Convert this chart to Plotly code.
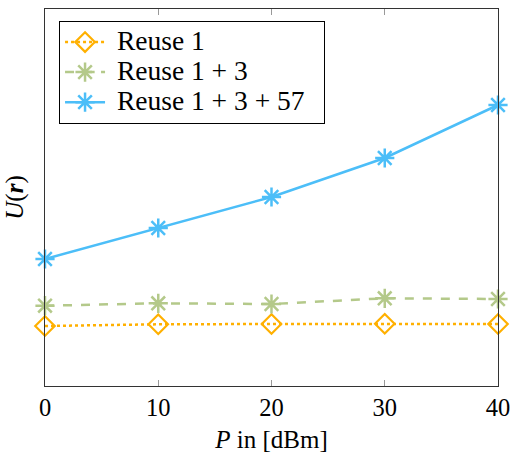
import plotly.graph_objects as go

P = [0, 10, 20, 30, 40]
reuse1 = [60, 61.7, 62, 62.3, 62]
reuse13 = [80.3, 82.7, 82, 87.7, 87]
reuse1357 = [127, 158, 189, 228, 281]
x_ticks = [0, 10, 20, 30, 40]
names = ["Reuse 1", "Reuse 1 + 3", "Reuse 1 + 3 + 57"]

FONT = "Liberation Serif"
ORANGE = "#FFB000"
GREEN = "#B4C98A"
BLUE = "#4CBEF8"


def big(s):
    return '<span style="font-size:27.5px">\u00a0' + s + '\u00a0\u00a0</span>'


fig = go.Figure()
fig.add_trace(go.Scatter(
    x=P, y=reuse1, name=big(names[0]), mode="lines+markers",
    line=dict(color=ORANGE, width=2.5, dash="dot"),
    marker=dict(symbol="diamond-open", size=15, color=ORANGE, line=dict(width=2.2, color=ORANGE)),
    cliponaxis=False,
))
fig.add_trace(go.Scatter(
    x=P, y=reuse13, name=big(names[1]), mode="lines+markers",
    line=dict(color=GREEN, width=2.5, dash="dash"),
    marker=dict(symbol="asterisk-open", size=16, color=GREEN, line=dict(width=2.5, color=GREEN)),
    cliponaxis=False,
))
fig.add_trace(go.Scatter(
    x=P, y=reuse1357, name=big(names[2]), mode="lines+markers",
    line=dict(color=BLUE, width=2.5),
    marker=dict(symbol="asterisk-open", size=16, color=BLUE, line=dict(width=2.5, color=BLUE)),
    cliponaxis=False,
))

fig.update_layout(
    width=513, height=453,
    margin=dict(l=45, r=15, t=9, b=67),
    paper_bgcolor="white", plot_bgcolor="white",
    font=dict(family=FONT, size=24, color="black"),
    showlegend=True,
    legend=dict(
        x=0.031, y=0.968, xanchor="left", yanchor="top",
        bgcolor="white", bordercolor="black", borderwidth=1,
        font=dict(family=FONT, size=20.8, color="black"),
        tracegroupgap=0, itemwidth=40,
    ),
    xaxis=dict(
        range=[0, 40], tickvals=x_ticks, ticktext=[str(v) for v in x_ticks],
        showgrid=False, zeroline=False, automargin=False,
        showline=True, linecolor="#333333", linewidth=1, mirror="allticks",
        ticks="inside", ticklen=6, tickcolor="#999999",
        tickfont=dict(family=FONT, size=24.5),
        title=dict(text="<i>P</i> in [dBm]", font=dict(family=FONT, size=25), standoff=10),
    ),
    yaxis=dict(
        range=[0, 377], showticklabels=False, ticks="",
        showgrid=False, zeroline=False, automargin=False,
        showline=True, linecolor="#333333", linewidth=1, mirror=True,
        title=dict(text="<i>U</i>(<b><i>r</i></b>)", font=dict(family=FONT, size=25), standoff=13),
    ),
)

fig.write_html(
    "out.html",
    config={"displayModeBar": False},
    post_script="document.body.style.margin='0';document.body.style.padding='0';",
)
